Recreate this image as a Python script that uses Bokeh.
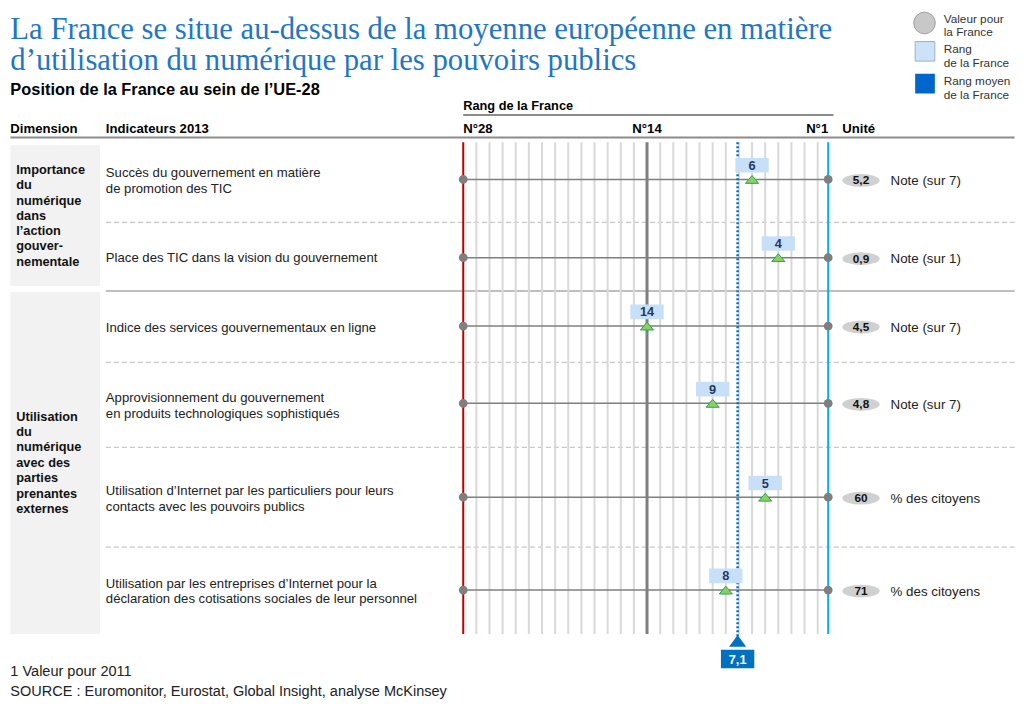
from bokeh.plotting import figure
from bokeh.models import Range1d
from bokeh.embed import file_html
from bokeh.resources import INLINE
from bokeh.core.properties import value

# ---------------- data ----------------
title_lines = ["La France se situe au-dessus de la moyenne européenne en matière",
               "d\u2019utilisation du numérique par les pouvoirs publics"]
subtitle = "Position de la France au sein de l\u2019UE-28"
dimension_1 = ["Importance", "du", "numérique", "dans", "l\u2019action", "gouver-", "nementale"]
dimension_2 = ["Utilisation", "du", "numérique", "avec des", "parties", "prenantes", "externes"]
indicators = [
    ["Succès du gouvernement en matière", "de promotion des TIC"],
    ["Place des TIC dans la vision du gouvernement"],
    ["Indice des services gouvernementaux en ligne"],
    ["Approvisionnement du gouvernement", "en produits technologiques sophistiqués"],
    ["Utilisation d\u2019Internet par les particuliers pour leurs", "contacts avec les pouvoirs publics"],
    ["Utilisation par les entreprises d\u2019Internet pour la", "déclaration des cotisations sociales de leur personnel"],
]
ranks = [6, 4, 14, 9, 5, 8]
values = ["5,2", "0,9", "4,5", "4,8", "60", "71"]
units = ["Note (sur 7)", "Note (sur 1)", "Note (sur 7)", "Note (sur 7)", "% des citoyens", "% des citoyens"]
avg_rank = 7.1
avg_label = "7,1"
n_countries = 28
rank_ticks = [28, 14, 1]
rank_tick_labels = ["N°28", "N°14", "N°1"]
legend_labels = [["Valeur pour", "la France"], ["Rang", "de la France"], ["Rang moyen", "de la France"]]
footnotes = ["1 Valeur pour 2011", "SOURCE : Euromonitor, Eurostat, Global Insight, analyse McKinsey"]

# ---------------- layout / style ----------------
SANS = "Liberation Sans"
SERIF = "Liberation Serif"
W, H = 1020, 704            # figure size in screen px
RW, RH = 1036, 720          # layout coordinate space
S = (W / RW + H / RH) / 2   # scale of layout units to screen px
X28 = 470.0
STEP = 40.0 / 3.0
row_y = [183, 263, 333, 412, 508, 603]
ind_line_y = [[176, 192], [263], [334], [406, 422], [501, 517], [596, 612]]
GRID_TOP, GRID_BOTTOM = 145, 648
RIGHT_BORDER_RANK = 0.2


def fs(px):
    return f"{px * S:.2f}px"


p = figure(width=W, height=H, output_backend="svg", toolbar_location=None,
           x_range=Range1d(0, RW), y_range=Range1d(RH, 0),
           x_axis_location=None, y_axis_location=None, min_border=0)
p.xgrid.visible = False
p.ygrid.visible = False
p.outline_line_color = None
p.background_fill_color = "white"
p.border_fill_color = "white"
p.extra_x_ranges = {"rank": Range1d(n_countries + X28 / STEP,
                                    n_countries - (RW - X28) / STEP)}
R = dict(x_range_name="rank")


def txt(xs, ys, ss, size, color="#1a1a1a", bold=False, font=SANS, align="left",
        baseline="middle", **kw):
    p.text(x=xs, y=ys, text=ss, text_font=value(font), text_font_size=fs(size),
           text_color=color, text_font_style="bold" if bold else "normal",
           text_align=align, text_baseline=baseline, **kw)


# title
txt([10, 10], [29, 61], title_lines, 31.3, color="#1F77C4", font=SERIF, baseline="alphabetic")
txt([10], [90], [subtitle], 16.7, color="#000000", bold=True)

# legend
p.scatter(x=[938.5], y=[23], size=22 * S, marker="circle", fill_color="#C8C8C8", line_color="#A0A0A0")
p.rect(x=[939], y=[52], width=20, height=20, fill_color="#CCE2F8", line_color="#9AB2CC")
p.rect(x=[939], y=[85], width=20, height=20, fill_color="#0066CC", line_color=None)
lx, ly = [], []
for i, pair in enumerate(legend_labels):
    base = [18, 49, 82][i]
    lx += [958, 958]
    ly += [base, base + 14]
txt(lx, ly, [s for pair in legend_labels for s in pair], 12, color="#333333")

# headers
txt([470], [107], ["Rang de la France"], 13, color="#000000", bold=True)
p.segment(x0=[470], y0=[117], x1=[846], y1=[117], line_color="#8C8C8C", line_width=2)
txt([10, 107, 855], [131, 131, 131], ["Dimension", "Indicateurs 2013", "Unité"], 13.4,
    color="#000000", bold=True)
txt([rank_ticks[0]], [131], [rank_tick_labels[0]], 13.4, color="#000000", bold=True, **R)
txt([rank_ticks[1]], [131], [rank_tick_labels[1]], 13.4, color="#000000", bold=True, align="center", **R)
txt([RIGHT_BORDER_RANK], [131], [rank_tick_labels[2]], 13.4, color="#000000", bold=True, align="right", **R)
p.segment(x0=[10], y0=[140], x1=[1030], y1=[140], line_color="#8C8C8C", line_width=2)

# row separators
p.segment(x0=[107] * 4, y0=[227, 370, 457, 559], x1=[1030] * 4, y1=[227, 370, 457, 559],
          line_color="#C8C8C8", line_width=1.2, line_dash="5 3")
p.segment(x0=[107], y0=[297], x1=[1030], y1=[297], line_color="#BFBFBF", line_width=2)

# dimension boxes
p.quad(left=[10, 10], right=[101, 101], top=[148, 298], bottom=[292, 648],
       fill_color="#F2F2F2", line_color=None)
txt([16] * 7, [173 + 15.6 * i for i in range(7)], dimension_1, 13, color="#111111", bold=True)
txt([16] * 7, [425 + 15.8 * i for i in range(7)], dimension_2, 13, color="#111111", bold=True)

# indicator texts
ix, iy, it = [], [], []
for lines, ys in zip(indicators, ind_line_y):
    for s, y in zip(lines, ys):
        ix.append(107); iy.append(y); it.append(s)
txt(ix, iy, it, 13.4, color="#222222")

# vertical rank grid
light = [r for r in range(1, n_countries) if r != 14]
p.segment(x0=light, y0=[GRID_TOP] * len(light), x1=light, y1=[GRID_BOTTOM] * len(light),
          line_color="#D9D9D9", line_width=2, **R)
p.segment(x0=[n_countries], y0=[GRID_TOP], x1=[n_countries], y1=[GRID_BOTTOM],
          line_color="#C00000", line_width=2, **R)
p.segment(x0=[14], y0=[GRID_TOP], x1=[14], y1=[GRID_BOTTOM],
          line_color="#7F7F7F", line_width=3, **R)
p.segment(x0=[RIGHT_BORDER_RANK], y0=[GRID_TOP], x1=[RIGHT_BORDER_RANK], y1=[GRID_BOTTOM],
          line_color="#00B0F0", line_width=2, **R)

# row lines + end dots
p.segment(x0=[n_countries] * 6, y0=row_y, x1=[RIGHT_BORDER_RANK] * 6, y1=row_y,
          line_color="#7F7F7F", line_width=1.5, **R)
p.scatter(x=[n_countries] * 6 + [RIGHT_BORDER_RANK] * 6, y=row_y + row_y, size=9 * S,
          marker="circle", fill_color="#7F7F7F", line_color=None, **R)

# average rank dotted line
p.segment(x0=[avg_rank], y0=[GRID_TOP], x1=[avg_rank], y1=[650],
          line_color="#0070C0", line_width=2.5, line_dash="2 2", **R)

# France rank markers
p.patches(xs=[[r - 0.5, r + 0.5, r] for r in ranks],
          ys=[[y + 4, y + 4, y - 4] for y in row_y],
          fill_color="#8CD064", line_color="#22A84A", line_width=1, **R)
p.rect(x=ranks, y=[y - 14.5 for y in row_y], width=34 * S, height=15, width_units="screen",
       fill_color="#C8E0F7", line_color=None, **R)
txt(ranks, [y - 14.5 for y in row_y], [str(r) for r in ranks], 13, color="#1F3864",
    bold=True, align="center", **R)

# values + units
p.ellipse(x=[874] * 6, y=[y + 1 for y in row_y], width=[38 * S] * 6, height=[13] * 6,
          width_units="screen", fill_color="#D0D0D0", line_color=None)
txt([874] * 6, [y + 1 for y in row_y], values, 12, color="#111111", bold=True, align="center")
txt([904] * 6, [y + 1 for y in row_y], units, 13.6, color="#222222")

# average rank marker
p.patches(xs=[[avg_rank - 0.65, avg_rank + 0.65, avg_rank]], ys=[[661, 661, 649]],
          fill_color="#0070C0", line_color=None, **R)
p.rect(x=[avg_rank], y=[673.5], width=34 * S, height=19, width_units="screen",
       fill_color="#0070C0", line_color=None, **R)
txt([avg_rank], [673.5], [avg_label], 13, color="#FFFFFF", bold=True, align="center", **R)

# footnotes
txt([10, 10], [686, 706], footnotes, 14.8, color="#222222")

open("out.html", "w").write(file_html(p, INLINE))
